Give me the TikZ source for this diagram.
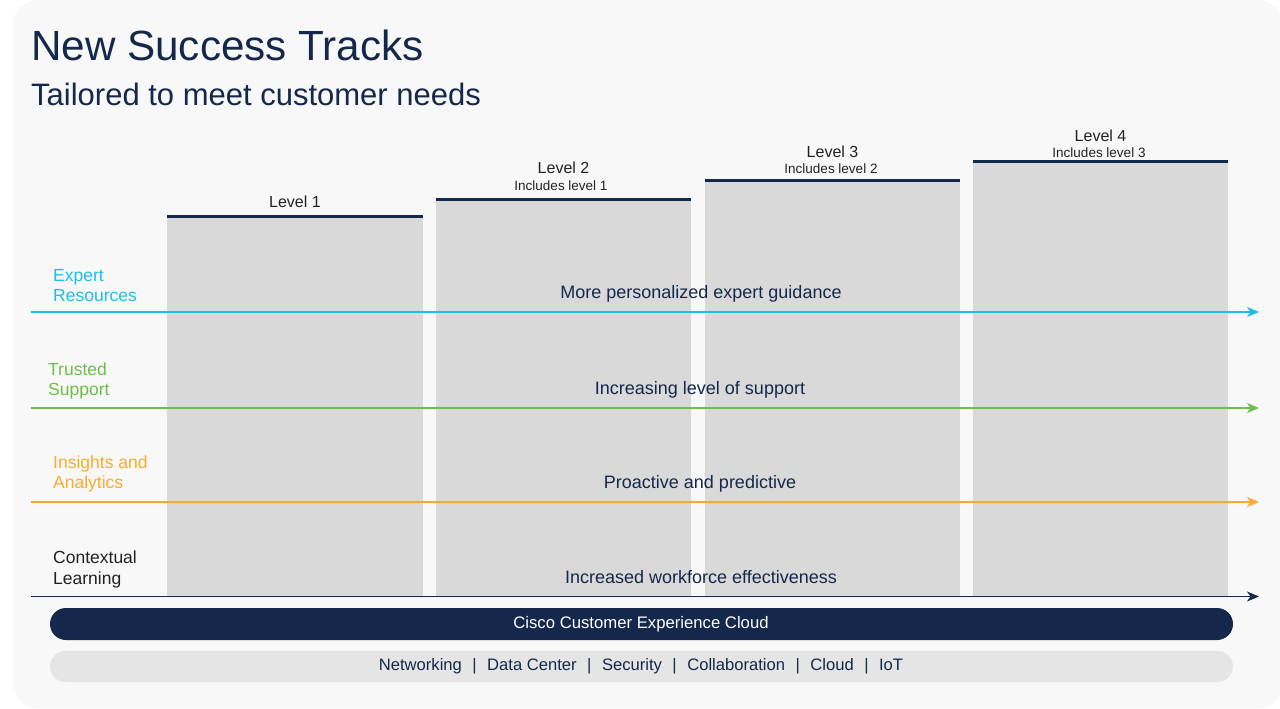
\documentclass[tikz,border=0pt]{standalone}
\usepackage{fontspec}
\setmainfont{Liberation Sans}
\usetikzlibrary{arrows.meta}
\definecolor{navy}{HTML}{14284B}
\definecolor{cyanc}{HTML}{1EBDEA}
\definecolor{greenc}{HTML}{6CC04A}
\definecolor{orangec}{HTML}{FBAB2C}
\definecolor{colgray}{HTML}{D9D9D9}
\definecolor{bgc}{HTML}{F8F8F8}
\definecolor{bartwo}{HTML}{E5E5E5}
\definecolor{txtc}{HTML}{222222}
\tikzset{
  colbox/.style={fill=colgray, draw=none, inner sep=0pt, minimum width=256pt, anchor=north west},
  topline/.style={navy, line width=3pt},
  lvl/.style={anchor=base, inner sep=0pt, text=txtc, font=\fontsize{16}{19}\selectfont},
  incl/.style={anchor=base, inner sep=0pt, text=txtc, font=\fontsize{13.5}{16}\selectfont},
  side/.style={anchor=base west, inner sep=0pt, font=\fontsize{17.5}{21}\selectfont},
  mid/.style={anchor=base, inner sep=0pt, text=navy, font=\fontsize{18}{22}\selectfont},
  track/.style={line width=1.4pt, -{Stealth[length=12pt,width=10pt,inset=3.5pt]}}
}
\newcommand{\barsep}{\hspace{10.5pt}|\hspace{10.5pt}}
\begin{document}
\begin{tikzpicture}[x=1pt,y=-1pt]
\useasboundingbox (0,0) rectangle (1280,709);
\fill[white] (0,0) rectangle (1280,709);
\fill[bgc, rounded corners=25pt] (13,0) rectangle (1283,708);

% title
\node[anchor=base west, inner sep=0pt, text=navy, font=\fontsize{42.2}{48}\selectfont] (title) at (31,60) {New Success Tracks};
\node[anchor=base west, inner sep=0pt, text=navy, font=\fontsize{31}{36}\selectfont] (subtitle) at (31,106) {Tailored to meet customer needs};

% columns
\node[colbox, minimum height=380pt] (col1) at (167,216) {};
\node[colbox, minimum height=397pt, minimum width=255pt] (col2) at (436,199) {};
\node[colbox, minimum height=416pt, minimum width=255pt] (col3) at (705,180) {};
\node[colbox, minimum height=435pt, minimum width=255pt] (col4) at (973,161) {};
\draw[topline] (col1.north west) -- (col1.north east);
\draw[topline] (col2.north west) -- (col2.north east);
\draw[topline] (col3.north west) -- (col3.north east);
\draw[topline] (col4.north west) -- (col4.north east);

% level labels
\node[lvl] (lv1) at (295,207) {Level 1};
\node[lvl] (lv2) at (563.5,173) {Level 2};
\node[incl] (in2) at (561,190) {Includes level 1};
\node[lvl] (lv3) at (832.5,157) {Level 3};
\node[incl] (in3) at (831,173) {Includes level 2};
\node[lvl] (lv4) at (1100.5,141) {Level 4};
\node[incl] (in4) at (1099,157) {Includes level 3};

% side labels
\node[side, text=cyanc] (er1) at (53,281) {Expert};
\node[side, text=cyanc] (er2) at (53,301) {Resources};
\node[side, text=greenc] (ts1) at (48,375) {Trusted};
\node[side, text=greenc] (ts2) at (48,395) {Support};
\node[side, text=orangec] (ia1) at (53,468) {Insights and};
\node[side, text=orangec] (ia2) at (53,488) {Analytics};
\node[side, text=txtc] (cl1) at (53,563) {Contextual};
\node[side, text=txtc] (cl2) at (53,584) {Learning};

% tracks
\coordinate (s1) at (31,312);  \coordinate (e1) at (1259,312);
\coordinate (s2) at (31,408);  \coordinate (e2) at (1259,408);
\coordinate (s3) at (31,502);  \coordinate (e3) at (1259,502);
\coordinate (s4) at (31,596.5);  \coordinate (e4) at (1259,596.5);
\draw[track, cyanc] (s1) -- (e1);
\draw[track, greenc] (s2) -- (e2);
\draw[track, orangec] (s3) -- (e3);
\draw[track, navy] (s4) -- (e4);

% middle texts
\node[mid] (m1) at (701,298) {More personalized expert guidance};
\node[mid] (m2) at (700,394) {Increasing level of support};
\node[mid] (m3) at (700,488) {Proactive and predictive};
\node[mid] (m4) at (701,583) {Increased workforce effectiveness};

% bottom bars
\fill[navy, rounded corners=16pt] (50,608) rectangle (1233,640);
\node[anchor=base, inner sep=0pt, text=white, font=\fontsize{16.7}{20}\selectfont] (cloud) at (641,628.5) {Cisco Customer Experience Cloud};
\fill[bartwo, rounded corners=15.5pt] (50,651) rectangle (1233,682);
\node[anchor=base, inner sep=0pt, text=navy, font=\fontsize{16.6}{20}\selectfont] (arch) at (641,670.5) {Networking\barsep Data Center\barsep Security\barsep Collaboration\barsep Cloud\barsep IoT};
\end{tikzpicture}
\end{document}
